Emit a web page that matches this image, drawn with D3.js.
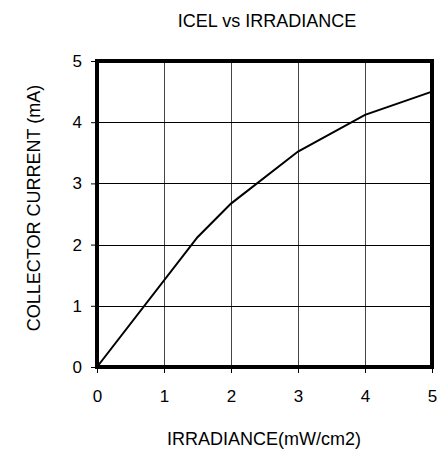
<!DOCTYPE html>
<html><head><meta charset="utf-8">
<script src="https://cdn.jsdelivr.net/npm/d3@7"></script>
<style>body{margin:0;background:#fff}svg{display:block}text{font-family:"Liberation Sans",Arial,sans-serif;fill:#000}</style>
</head><body>
<svg id="c" width="438" height="449"></svg>
<script>
const irradiance = [0, 1.5, 2, 3, 4, 5];
const current = [0, 2.12, 2.67, 3.52, 4.12, 4.5];
const xTicks = [0, 1, 2, 3, 4, 5];
const yTicks = [0, 1, 2, 3, 4, 5];
const title = "ICEL vs IRRADIANCE";
const xLabel = "IRRADIANCE(mW/cm2)";
const yLabel = "COLLECTOR CURRENT (mA)";

const svg = d3.select("#c");
const L = 97, R = 432, T = 61, B = 367;
const FS = "17px";
const x = d3.scaleLinear().domain([0, 5]).range([L, R]);
const y = d3.scaleLinear().domain([0, 5]).range([B, T]);

// grid
svg.append("g").selectAll("line").data(xTicks.slice(1, -1)).join("line")
  .attr("x1", d => Math.round(x(d)) + 0.5).attr("x2", d => Math.round(x(d)) + 0.5)
  .attr("y1", T).attr("y2", B).attr("stroke", "#444").attr("stroke-width", 1);
svg.append("g").selectAll("line").data(yTicks.slice(1, -1)).join("line")
  .attr("y1", d => Math.round(y(d)) + 0.5).attr("y2", d => Math.round(y(d)) + 0.5)
  .attr("x1", L).attr("x2", R).attr("stroke", "#000").attr("stroke-width", 1);

// axes
const xa = svg.append("g").attr("transform", `translate(0,${B})`)
  .call(d3.axisBottom(x).tickValues(xTicks).tickFormat(d3.format("d")).tickSize(6).tickPadding(17));
const ya = svg.append("g").attr("transform", `translate(${L},0)`)
  .call(d3.axisLeft(y).tickValues(yTicks).tickFormat(d3.format("d")).tickSize(6).tickPadding(9));
[xa, ya].forEach(a => {
  a.select(".domain").remove();
  a.selectAll("line").attr("stroke", "#000");
  a.selectAll("text").style("font-size", FS).style("font-family", '"Liberation Sans",Arial,sans-serif');
});

// line
svg.append("path").datum(irradiance.map((v, i) => [v, current[i]]))
  .attr("d", d3.line().x(d => x(d[0])).y(d => y(d[1])))
  .attr("fill", "none").attr("stroke", "#000").attr("stroke-width", 2);

// frame
svg.append("rect").attr("x", L).attr("y", T).attr("width", R - L).attr("height", B - T)
  .attr("fill", "none").attr("stroke", "#000").attr("stroke-width", 4);

svg.append("text").attr("x", 267).attr("y", 27).attr("text-anchor", "middle").style("font-size", "18px").text(title);
svg.append("text").attr("x", 264).attr("y", 445).attr("text-anchor", "middle").style("font-size", "18px").text(xLabel);
svg.append("text").attr("transform", "translate(40,208) rotate(-90)").attr("text-anchor", "middle").style("font-size", "18px").text(yLabel);
</script>
</body></html>
